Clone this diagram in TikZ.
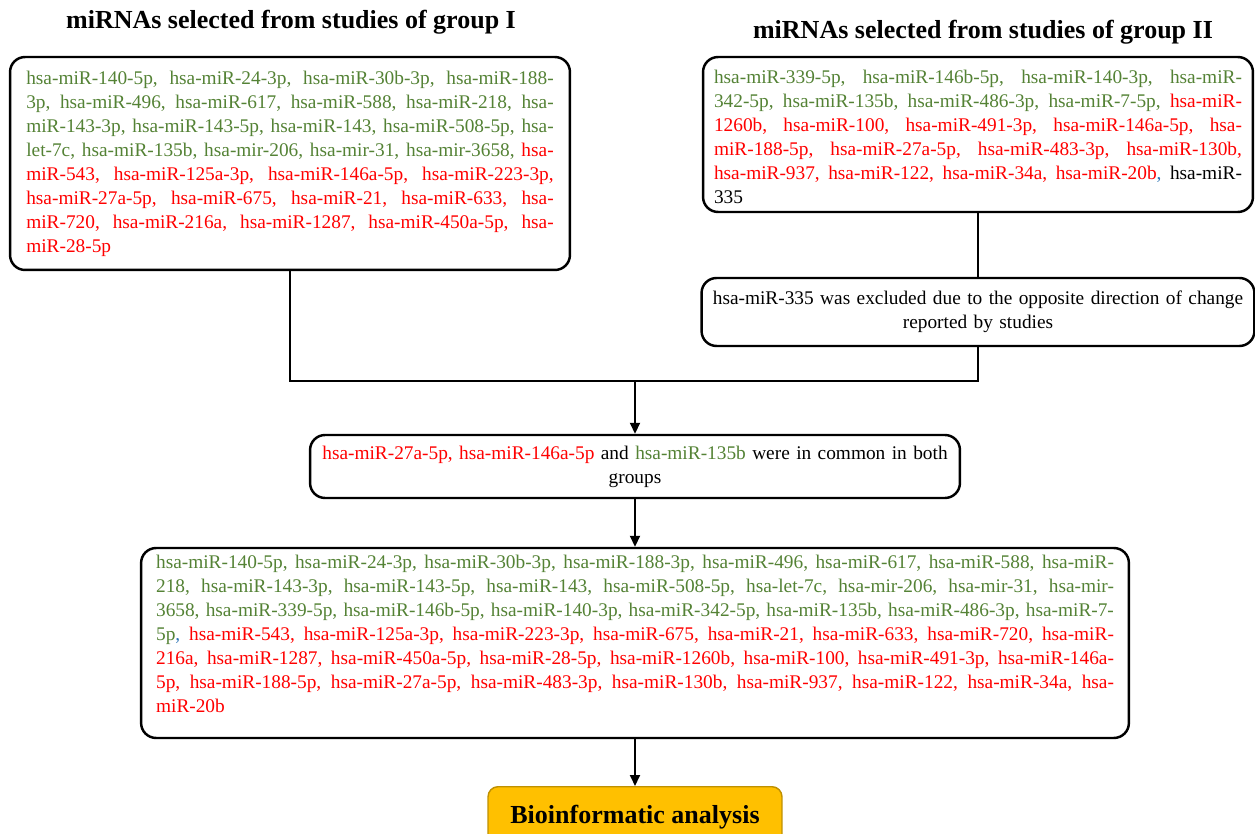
\documentclass[tikz,border=0pt]{standalone}
\usepackage{fontspec}
\setmainfont{Liberation Serif}
\usetikzlibrary{arrows.meta}

\definecolor{mirgreen}{RGB}{84,130,53}
\definecolor{mirred}{RGB}{255,0,0}
\definecolor{commablue}{RGB}{46,117,182}
\definecolor{boxgold}{RGB}{255,192,0}
\definecolor{goldedge}{RGB}{191,144,0}

\newcommand{\mirfont}{\fontsize{11}{13.66}\selectfont}
\tolerance=10000
\hbadness=10000

\begin{document}
\begin{tikzpicture}[x=0.02cm, y=-0.02cm,
    mirbox/.style={draw, line width=1.4pt, rounded corners=0.3cm, inner sep=0pt, font=\mirfont, align=justify},
    notebox/.style={draw, line width=1.4pt, rounded corners=0.3cm, inner sep=0pt, font=\mirfont, align=center},
    heading/.style={font=\fontsize{14.8}{18}\selectfont\bfseries},
    link/.style={line width=1.1pt},
    arrowlink/.style={link, -{Triangle[length=0.22cm, width=0.2cm]}}]
    \useasboundingbox (0,0) rectangle (1255,834);

    % Group headings
    \node[heading] (head1) at (291,22) {miRNAs selected from studies of group I};
    \node[heading] (head2) at (983,32) {miRNAs selected from studies of group II};

    % miRNAs of group I
    \node[mirbox, minimum width=11.2cm, minimum height=4.26cm, text width=10.55cm] (grp1) at (290,163.5) {%
        {\color{mirgreen}hsa-miR-140-5p, hsa-miR-24-3p, hsa-miR-30b-3p, hsa-miR-188-\linebreak
        3p, hsa-miR-496, hsa-miR-617, hsa-miR-588, hsa-miR-218, hsa-\linebreak
        miR-143-3p, hsa-miR-143-5p, hsa-miR-143, hsa-miR-508-5p, hsa-\linebreak
        let-7c, hsa-miR-135b, hsa-mir-206, hsa-mir-31, hsa-mir-3658,} {\color{mirred}hsa-\linebreak
        miR-543, hsa-miR-125a-3p, hsa-miR-146a-5p, hsa-miR-223-3p,\linebreak
        hsa-miR-27a-5p, hsa-miR-675, hsa-miR-21, hsa-miR-633, hsa-\linebreak
        miR-720, hsa-miR-216a, hsa-miR-1287, hsa-miR-450a-5p, hsa-\linebreak
        miR-28-5p}};

    % miRNAs of group II
    \node[mirbox, minimum width=11cm, minimum height=3.1cm, text width=10.56cm] (grp2) at (978,134.5) {%
        {\color{mirgreen}\rule{0pt}{0.38cm}hsa-miR-339-5p, hsa-miR-146b-5p, hsa-miR-140-3p, hsa-miR-\linebreak
        342-5p, hsa-miR-135b, hsa-miR-486-3p, hsa-miR-7-5p,} {\color{mirred}hsa-miR-\linebreak
        1260b, hsa-miR-100, hsa-miR-491-3p, hsa-miR-146a-5p, hsa-\linebreak
        miR-188-5p, hsa-miR-27a-5p, hsa-miR-483-3p, hsa-miR-130b,\linebreak
        hsa-miR-937, hsa-miR-122, hsa-miR-34a, hsa-miR-20b}{\color{commablue},} hsa-miR-\linebreak
        335};

    \node[notebox, minimum width=11.06cm, minimum height=1.36cm, text width=10.8cm] (excl) at (978,312)
        {hsa-miR-335 was excluded due to the opposite direction of change\\reported by studies};

    % Common miRNAs
    \node[notebox, minimum width=13cm, minimum height=1.26cm, text width=12.7cm] (common) at (635,466.5)
        {{\color{mirred}hsa-miR-27a-5p, hsa-miR-146a-5p} and {\color{mirgreen}hsa-miR-135b} were in common in both\\groups};

    % Merged list
    \node[mirbox, minimum width=19.76cm, minimum height=3.8cm, text width=19.16cm] (merged) at (635,643) {%
        {\color{mirgreen}hsa-miR-140-5p, hsa-miR-24-3p, hsa-miR-30b-3p, hsa-miR-188-3p, hsa-miR-496, hsa-miR-617, hsa-miR-588, hsa-miR-\linebreak
        218, hsa-miR-143-3p, hsa-miR-143-5p, hsa-miR-143, hsa-miR-508-5p, hsa-let-7c, hsa-mir-206, hsa-mir-31, hsa-mir-\linebreak
        3658, hsa-miR-339-5p, hsa-miR-146b-5p, hsa-miR-140-3p, hsa-miR-342-5p, hsa-miR-135b, hsa-miR-486-3p, hsa-miR-7-\linebreak
        5p}{\color{commablue},} {\color{mirred}hsa-miR-543, hsa-miR-125a-3p, hsa-miR-223-3p, hsa-miR-675, hsa-miR-21, hsa-miR-633, hsa-miR-720, hsa-miR-\linebreak
        216a, hsa-miR-1287, hsa-miR-450a-5p, hsa-miR-28-5p, hsa-miR-1260b, hsa-miR-100, hsa-miR-491-3p, hsa-miR-146a-\linebreak
        5p, hsa-miR-188-5p, hsa-miR-27a-5p, hsa-miR-483-3p, hsa-miR-130b, hsa-miR-937, hsa-miR-122, hsa-miR-34a, hsa-\linebreak
        miR-20b\rule[-0.36cm]{0pt}{0.36cm}}};

    % Final step
    \node[draw=goldedge, fill=boxgold, line width=0.8pt, rounded corners=0.2cm, minimum width=5.88cm, minimum height=1.2cm,
          anchor=north, font=\fontsize{14.8}{18}\selectfont\bfseries] (bioinf) at (635,786) {Bioinformatic analysis};

    % Connectors
    \coordinate (join) at (635,381);
    \draw[link] (grp1.south) |- (join) -| (excl.south);
    \draw[link] (grp2.south) -- (excl.north);
    \draw[arrowlink] (join) -- (common.north);
    \draw[arrowlink] (common.south) -- (merged.north);
    \draw[arrowlink] (merged.south) -- (bioinf.north);
\end{tikzpicture}
\end{document}
